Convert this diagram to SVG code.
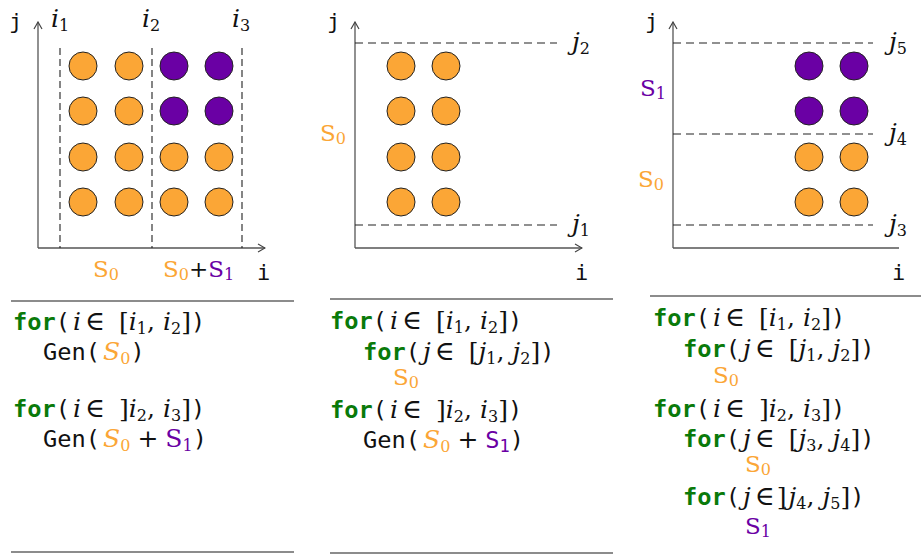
<svg xmlns="http://www.w3.org/2000/svg" width="921" height="554" viewBox="0 0 921 554">
<defs>
<marker id="arr" viewBox="0 0 10 10" refX="9" refY="5" markerWidth="10" markerHeight="10" markerUnits="userSpaceOnUse" orient="auto">
<path d="M2,1 L9,5 L2,9" fill="none" stroke="#444" stroke-width="1.2"/>
</marker>
</defs>
<style>
text{font-family:'DejaVu Serif','Liberation Serif',serif;fill:#111}
.axis{stroke:#555;stroke-width:1.3;fill:none}
.dv{stroke:#222;stroke-width:1.1;stroke-dasharray:7 4;fill:none}
.dh{stroke:#222;stroke-width:1.1;stroke-dasharray:8 5;fill:none}
.rule{stroke:#666;stroke-width:1.5}
.o{fill:#FBA636;stroke:#222;stroke-width:1}
.p{fill:#6A00A4;stroke:#222;stroke-width:1}
.ax{font-family:'DejaVu Sans Mono',monospace;font-size:22px}
.kw{font-family:'DejaVu Sans Mono',monospace;font-weight:bold;font-size:23.7px;fill:#0A7A0A}
.mono{font-family:'DejaVu Sans Mono',monospace;font-size:23.7px}
.mi{font-style:italic;font-size:25px}
.mr{font-size:25px}
.el{font-size:27px}
.sub{font-size:16px}
.lab{font-size:23px}
.or{fill:#FBA636}
.pu{fill:#6A00A4}
</style>

<g id="panel1">
<g id="axes1">
<line class="axis" x1="38" y1="248" x2="38" y2="22" marker-end="url(#arr)"/>
<line class="axis" x1="38" y1="248" x2="265" y2="248" marker-end="url(#arr)"/>
<line class="dv" x1="60" y1="48" x2="60" y2="248"/>
<line class="dv" x1="152" y1="48" x2="152" y2="248"/>
<line class="dv" x1="242" y1="48" x2="242" y2="248"/>
</g>
<text class="ax" x="9" y="29">j</text>
<text class="ax" x="257" y="280">i</text>
<text x="51" y="27"><tspan class="mi">i</tspan><tspan class="sub" dy="4">1</tspan></text>
<text x="142" y="27"><tspan class="mi">i</tspan><tspan class="sub" dy="4">2</tspan></text>
<text x="232" y="27"><tspan class="mi">i</tspan><tspan class="sub" dy="4">3</tspan></text>
<g id="pts1">
<circle class="o" cx="83" cy="66" r="14"/><circle class="o" cx="129" cy="66" r="14"/><circle class="p" cx="174" cy="66" r="14"/><circle class="p" cx="219" cy="66" r="14"/>
<circle class="o" cx="83" cy="111" r="14"/><circle class="o" cx="129" cy="111" r="14"/><circle class="p" cx="174" cy="111" r="14"/><circle class="p" cx="219" cy="111" r="14"/>
<circle class="o" cx="83" cy="157" r="14"/><circle class="o" cx="129" cy="157" r="14"/><circle class="o" cx="174" cy="157" r="14"/><circle class="o" cx="219" cy="157" r="14"/>
<circle class="o" cx="83" cy="202" r="14"/><circle class="o" cx="129" cy="202" r="14"/><circle class="o" cx="174" cy="202" r="14"/><circle class="o" cx="219" cy="202" r="14"/>
</g>
<text x="93" y="277"><tspan class="lab or">S</tspan><tspan class="sub or" dy="3">0</tspan></text>
<text x="163" y="277"><tspan class="lab or">S</tspan><tspan class="sub or" dy="3">0</tspan><tspan class="lab" dy="-3">+</tspan><tspan class="lab pu">S</tspan><tspan class="sub pu" dy="3">1</tspan></text>
<line class="rule" x1="11" y1="301" x2="294" y2="301"/>
<line class="rule" x1="11" y1="552" x2="294" y2="552"/>
<text x="13" y="330"><tspan class="kw">for</tspan><tspan class="mono">(</tspan><tspan class="mi" dx="3">i</tspan><tspan class="el" dx="4">∈</tspan><tspan class="mr" dx="14">[</tspan><tspan class="mi">i</tspan><tspan class="sub" dy="4">1</tspan><tspan class="mr" dy="-4">,</tspan><tspan class="mi" dx="8">i</tspan><tspan class="sub" dy="4">2</tspan><tspan class="mr" dy="-4">]</tspan><tspan class="mono">)</tspan></text>
<text x="43" y="360"><tspan class="mono">Gen(</tspan><tspan class="mi or" dx="3">S</tspan><tspan class="sub or" dy="4">0</tspan><tspan class="mono" dy="-4">)</tspan></text>
<text x="13" y="417"><tspan class="kw">for</tspan><tspan class="mono">(</tspan><tspan class="mi" dx="3">i</tspan><tspan class="el" dx="4">∈</tspan><tspan class="mr" dx="14">]</tspan><tspan class="mi">i</tspan><tspan class="sub" dy="4">2</tspan><tspan class="mr" dy="-4">,</tspan><tspan class="mi" dx="8">i</tspan><tspan class="sub" dy="4">3</tspan><tspan class="mr" dy="-4">]</tspan><tspan class="mono">)</tspan></text>
<text x="43" y="447"><tspan class="mono">Gen(</tspan><tspan class="mi or" dx="3">S</tspan><tspan class="sub or" dy="4">0</tspan><tspan class="mr" dy="-4" dx="7">+</tspan><tspan class="mr pu" dx="7">S</tspan><tspan class="sub pu" dy="4">1</tspan><tspan class="mono" dy="-4">)</tspan></text>
</g>

<g id="panel2">
<g id="axes2">
<line class="axis" x1="355" y1="248" x2="355" y2="22" marker-end="url(#arr)"/>
<line class="axis" x1="355" y1="248" x2="582" y2="248" marker-end="url(#arr)"/>
<line class="dh" x1="355" y1="43" x2="557" y2="43"/>
<line class="dh" x1="355" y1="225" x2="557" y2="225"/>
</g>
<text class="ax" x="327" y="29">j</text>
<text class="ax" x="575" y="280">i</text>
<text x="572" y="50"><tspan class="mi">j</tspan><tspan class="sub" dy="4">2</tspan></text>
<text x="572" y="232"><tspan class="mi">j</tspan><tspan class="sub" dy="4">1</tspan></text>
<g id="pts2">
<circle class="o" cx="401" cy="66" r="14"/><circle class="o" cx="446" cy="66" r="14"/>
<circle class="o" cx="401" cy="111" r="14"/><circle class="o" cx="446" cy="111" r="14"/>
<circle class="o" cx="401" cy="157" r="14"/><circle class="o" cx="446" cy="157" r="14"/>
<circle class="o" cx="401" cy="202" r="14"/><circle class="o" cx="446" cy="202" r="14"/>
</g>
<text x="320" y="141"><tspan class="lab or">S</tspan><tspan class="sub or" dy="3">0</tspan></text>
<line class="rule" x1="330" y1="299" x2="613" y2="299"/>
<line class="rule" x1="330" y1="553" x2="613" y2="553"/>
<text x="330" y="329"><tspan class="kw">for</tspan><tspan class="mono">(</tspan><tspan class="mi" dx="3">i</tspan><tspan class="el" dx="4">∈</tspan><tspan class="mr" dx="14">[</tspan><tspan class="mi">i</tspan><tspan class="sub" dy="4">1</tspan><tspan class="mr" dy="-4">,</tspan><tspan class="mi" dx="8">i</tspan><tspan class="sub" dy="4">2</tspan><tspan class="mr" dy="-4">]</tspan><tspan class="mono">)</tspan></text>
<text x="363" y="360"><tspan class="kw">for</tspan><tspan class="mono">(</tspan><tspan class="mi" dx="3">j</tspan><tspan class="el" dx="4">∈</tspan><tspan class="mr" dx="14">[</tspan><tspan class="mi">j</tspan><tspan class="sub" dy="4">1</tspan><tspan class="mr" dy="-4">,</tspan><tspan class="mi" dx="8">j</tspan><tspan class="sub" dy="4">2</tspan><tspan class="mr" dy="-4">]</tspan><tspan class="mono">)</tspan></text>
<text x="393" y="385"><tspan class="lab or">S</tspan><tspan class="sub or" dy="3">0</tspan></text>
<text x="330" y="418"><tspan class="kw">for</tspan><tspan class="mono">(</tspan><tspan class="mi" dx="3">i</tspan><tspan class="el" dx="4">∈</tspan><tspan class="mr" dx="14">]</tspan><tspan class="mi">i</tspan><tspan class="sub" dy="4">2</tspan><tspan class="mr" dy="-4">,</tspan><tspan class="mi" dx="8">i</tspan><tspan class="sub" dy="4">3</tspan><tspan class="mr" dy="-4">]</tspan><tspan class="mono">)</tspan></text>
<text x="363" y="448"><tspan class="mono">Gen(</tspan><tspan class="mi or" dx="3">S</tspan><tspan class="sub or" dy="4">0</tspan><tspan class="mr" dy="-4" dx="7">+</tspan><tspan class="mono pu" dx="7">S</tspan><tspan class="mono pu" dy="4" style="font-size:17px">1</tspan><tspan class="mono" dy="-4">)</tspan></text>
</g>

<g id="panel3">
<g id="axes3">
<line class="axis" x1="673" y1="248" x2="673" y2="22" marker-end="url(#arr)"/>
<line class="axis" x1="673" y1="248" x2="899" y2="248"/>
<line class="dh" x1="673" y1="43" x2="873" y2="43"/>
<line class="dh" x1="673" y1="134" x2="873" y2="134"/>
<line class="dh" x1="673" y1="225" x2="873" y2="225"/>
</g>
<text class="ax" x="645" y="29">j</text>
<text class="ax" x="892" y="280">i</text>
<text x="889" y="50"><tspan class="mi">j</tspan><tspan class="sub" dy="4">5</tspan></text>
<text x="889" y="141"><tspan class="mi">j</tspan><tspan class="sub" dy="4">4</tspan></text>
<text x="889" y="232"><tspan class="mi">j</tspan><tspan class="sub" dy="4">3</tspan></text>
<g id="pts3">
<circle class="p" cx="809" cy="66" r="14"/><circle class="p" cx="854" cy="66" r="14"/>
<circle class="p" cx="809" cy="111" r="14"/><circle class="p" cx="854" cy="111" r="14"/>
<circle class="o" cx="809" cy="157" r="14"/><circle class="o" cx="854" cy="157" r="14"/>
<circle class="o" cx="809" cy="202" r="14"/><circle class="o" cx="854" cy="202" r="14"/>
</g>
<text x="640" y="96"><tspan class="lab pu">S</tspan><tspan class="sub pu" dy="3">1</tspan></text>
<text x="638" y="187"><tspan class="lab or">S</tspan><tspan class="sub or" dy="3">0</tspan></text>
<line class="rule" x1="650" y1="296" x2="921" y2="296"/>
<text x="653" y="326"><tspan class="kw">for</tspan><tspan class="mono">(</tspan><tspan class="mi" dx="3">i</tspan><tspan class="el" dx="4">∈</tspan><tspan class="mr" dx="14">[</tspan><tspan class="mi">i</tspan><tspan class="sub" dy="4">1</tspan><tspan class="mr" dy="-4">,</tspan><tspan class="mi" dx="8">i</tspan><tspan class="sub" dy="4">2</tspan><tspan class="mr" dy="-4">]</tspan><tspan class="mono">)</tspan></text>
<text x="683" y="357"><tspan class="kw">for</tspan><tspan class="mono">(</tspan><tspan class="mi" dx="3">j</tspan><tspan class="el" dx="4">∈</tspan><tspan class="mr" dx="14">[</tspan><tspan class="mi">j</tspan><tspan class="sub" dy="4">1</tspan><tspan class="mr" dy="-4">,</tspan><tspan class="mi" dx="8">j</tspan><tspan class="sub" dy="4">2</tspan><tspan class="mr" dy="-4">]</tspan><tspan class="mono">)</tspan></text>
<text x="713" y="383"><tspan class="lab or">S</tspan><tspan class="sub or" dy="3">0</tspan></text>
<text x="653" y="417"><tspan class="kw">for</tspan><tspan class="mono">(</tspan><tspan class="mi" dx="3">i</tspan><tspan class="el" dx="4">∈</tspan><tspan class="mr" dx="14">]</tspan><tspan class="mi">i</tspan><tspan class="sub" dy="4">2</tspan><tspan class="mr" dy="-4">,</tspan><tspan class="mi" dx="8">i</tspan><tspan class="sub" dy="4">3</tspan><tspan class="mr" dy="-4">]</tspan><tspan class="mono">)</tspan></text>
<text x="683" y="447"><tspan class="kw">for</tspan><tspan class="mono">(</tspan><tspan class="mi" dx="3">j</tspan><tspan class="el" dx="4">∈</tspan><tspan class="mr" dx="14">[</tspan><tspan class="mi">j</tspan><tspan class="sub" dy="4">3</tspan><tspan class="mr" dy="-4">,</tspan><tspan class="mi" dx="8">j</tspan><tspan class="sub" dy="4">4</tspan><tspan class="mr" dy="-4">]</tspan><tspan class="mono">)</tspan></text>
<text x="745" y="472"><tspan class="lab or">S</tspan><tspan class="sub or" dy="3">0</tspan></text>
<text x="683" y="505"><tspan class="kw">for</tspan><tspan class="mono">(</tspan><tspan class="mi" dx="3">j</tspan><tspan class="el" dx="4">∈</tspan><tspan class="mr" dx="2">]</tspan><tspan class="mi" dx="2">j</tspan><tspan class="sub" dy="4">4</tspan><tspan class="mr" dy="-4">,</tspan><tspan class="mi" dx="8">j</tspan><tspan class="sub" dy="4">5</tspan><tspan class="mr" dy="-4">]</tspan><tspan class="mono">)</tspan></text>
<text x="745" y="534"><tspan class="lab pu">S</tspan><tspan class="sub pu" dy="3">1</tspan></text>
</g>
</svg>
